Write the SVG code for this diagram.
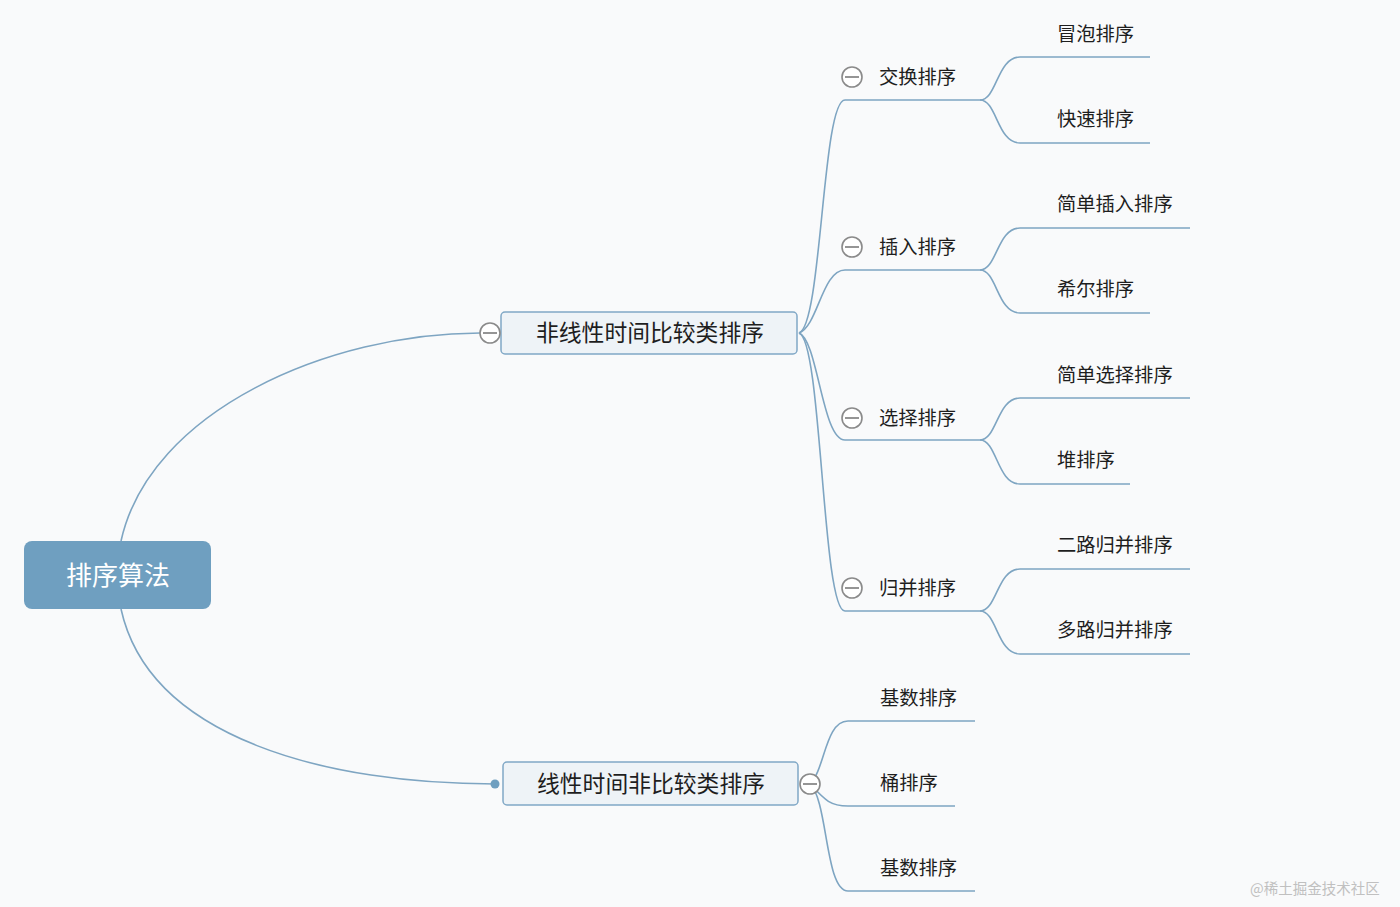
<svg xmlns="http://www.w3.org/2000/svg" width="1400" height="907" viewBox="0 0 1400 907">
<style>
.bg{fill:#f9fafb}
.c{fill:none;stroke:#7ea5c2;stroke-width:1.6}
.t{font-family:"Noto Sans CJK SC","Noto Sans",sans-serif;fill:#1e1e1e}
.s{font-size:19.3px}
.m{font-size:22.8px}
.box{fill:#eef3f7;stroke:#80a8c6;stroke-width:1.5}
.tog{fill:#fff;stroke:#8a8a8a;stroke-width:1.6}
.tl{stroke:#8a8a8a;stroke-width:1.8}
</style>
<rect class="bg" x="0" y="0" width="1400" height="907"/>
<g id="connectors">
<path class="c" d="M121,541 C150,410 330,333 480,333"/>
<path class="c" d="M121,609 C150,740 330,784 495,784"/>
<path class="c" d="M799,333 C822,326 822,100 845,100 L980,100"/>
<path class="c" d="M799,333 C818,326 822,270 845,270 L980,270"/>
<path class="c" d="M799,333 C818,340 822,440 845,440 L980,440"/>
<path class="c" d="M799,333 C822,340 822,611 845,611 L980,611"/>
<path class="c" d="M980,100 C997,100 997,57 1020,57 L1150,57"/>
<path class="c" d="M980,100 C997,100 997,143 1020,143 L1150,143"/>
<path class="c" d="M980,270 C997,270 997,228 1020,228 L1190,228"/>
<path class="c" d="M980,270 C997,270 997,313 1020,313 L1150,313"/>
<path class="c" d="M980,440 C997,440 997,398 1020,398 L1190,398"/>
<path class="c" d="M980,440 C997,440 997,484 1020,484 L1130,484"/>
<path class="c" d="M980,611 C997,611 997,569 1020,569 L1190,569"/>
<path class="c" d="M980,611 C997,611 997,654 1020,654 L1190,654"/>
<path class="c" d="M810,784 C825,770 825,721 848,721 L975,721"/>
<path class="c" d="M810,784 C825,800 830,806 848,806 L955,806"/>
<path class="c" d="M810,784 C828,800 825,891 848,891 L975,891"/>
</g>
<g id="root">
<rect x="24" y="541" width="187" height="68" rx="8" fill="#6f9fc0"/>
<text class="t" x="118" y="585" font-size="26" style="fill:#fff" text-anchor="middle">排序算法</text>
</g>
<g id="node-nonlinear">
<rect class="box" x="501" y="312" width="296" height="42" rx="4"/>
<text class="t m" x="650" y="341" text-anchor="middle">非线性时间比较类排序</text>
<circle class="tog" cx="490" cy="333" r="10"/>
<line class="tl" x1="483" y1="333" x2="497" y2="333"/>
</g>
<g id="node-linear">
<rect class="box" x="503" y="762" width="295" height="43" rx="4"/>
<text class="t m" x="651" y="792" text-anchor="middle">线性时间非比较类排序</text>
<circle cx="495" cy="784" r="4.5" fill="#6f9fc0"/>
<circle class="tog" cx="810" cy="784" r="10"/>
<line class="tl" x1="803" y1="784" x2="817" y2="784"/>
</g>
<g id="node-swap">
<circle class="tog" cx="852" cy="77" r="10"/>
<line class="tl" x1="845" y1="77" x2="859" y2="77"/>
<text class="t s" x="879" y="84">交换排序</text>
</g>
<g id="node-insert">
<circle class="tog" cx="852" cy="247" r="10"/>
<line class="tl" x1="845" y1="247" x2="859" y2="247"/>
<text class="t s" x="879" y="254">插入排序</text>
</g>
<g id="node-select">
<circle class="tog" cx="852" cy="418" r="10"/>
<line class="tl" x1="845" y1="418" x2="859" y2="418"/>
<text class="t s" x="879" y="425">选择排序</text>
</g>
<g id="node-merge">
<circle class="tog" cx="852" cy="588" r="10"/>
<line class="tl" x1="845" y1="588" x2="859" y2="588"/>
<text class="t s" x="879" y="595">归并排序</text>
</g>
<g id="leaf-bubble"><text class="t s" x="1057" y="41">冒泡排序</text></g>
<g id="leaf-quick"><text class="t s" x="1057" y="126">快速排序</text></g>
<g id="leaf-sinsert"><text class="t s" x="1057" y="211">简单插入排序</text></g>
<g id="leaf-shell"><text class="t s" x="1057" y="296">希尔排序</text></g>
<g id="leaf-sselect"><text class="t s" x="1057" y="382">简单选择排序</text></g>
<g id="leaf-heap"><text class="t s" x="1057" y="467">堆排序</text></g>
<g id="leaf-2merge"><text class="t s" x="1057" y="552">二路归并排序</text></g>
<g id="leaf-mmerge"><text class="t s" x="1057" y="637">多路归并排序</text></g>
<g id="leaf-radix1"><text class="t s" x="880" y="705">基数排序</text></g>
<g id="leaf-bucket"><text class="t s" x="880" y="790">桶排序</text></g>
<g id="leaf-radix2"><text class="t s" x="880" y="875">基数排序</text></g>
<text x="1250" y="894" font-family="Noto Sans CJK SC,sans-serif" font-size="14.5" fill="#c0c0c0">@稀土掘金技术社区</text>
</svg>
